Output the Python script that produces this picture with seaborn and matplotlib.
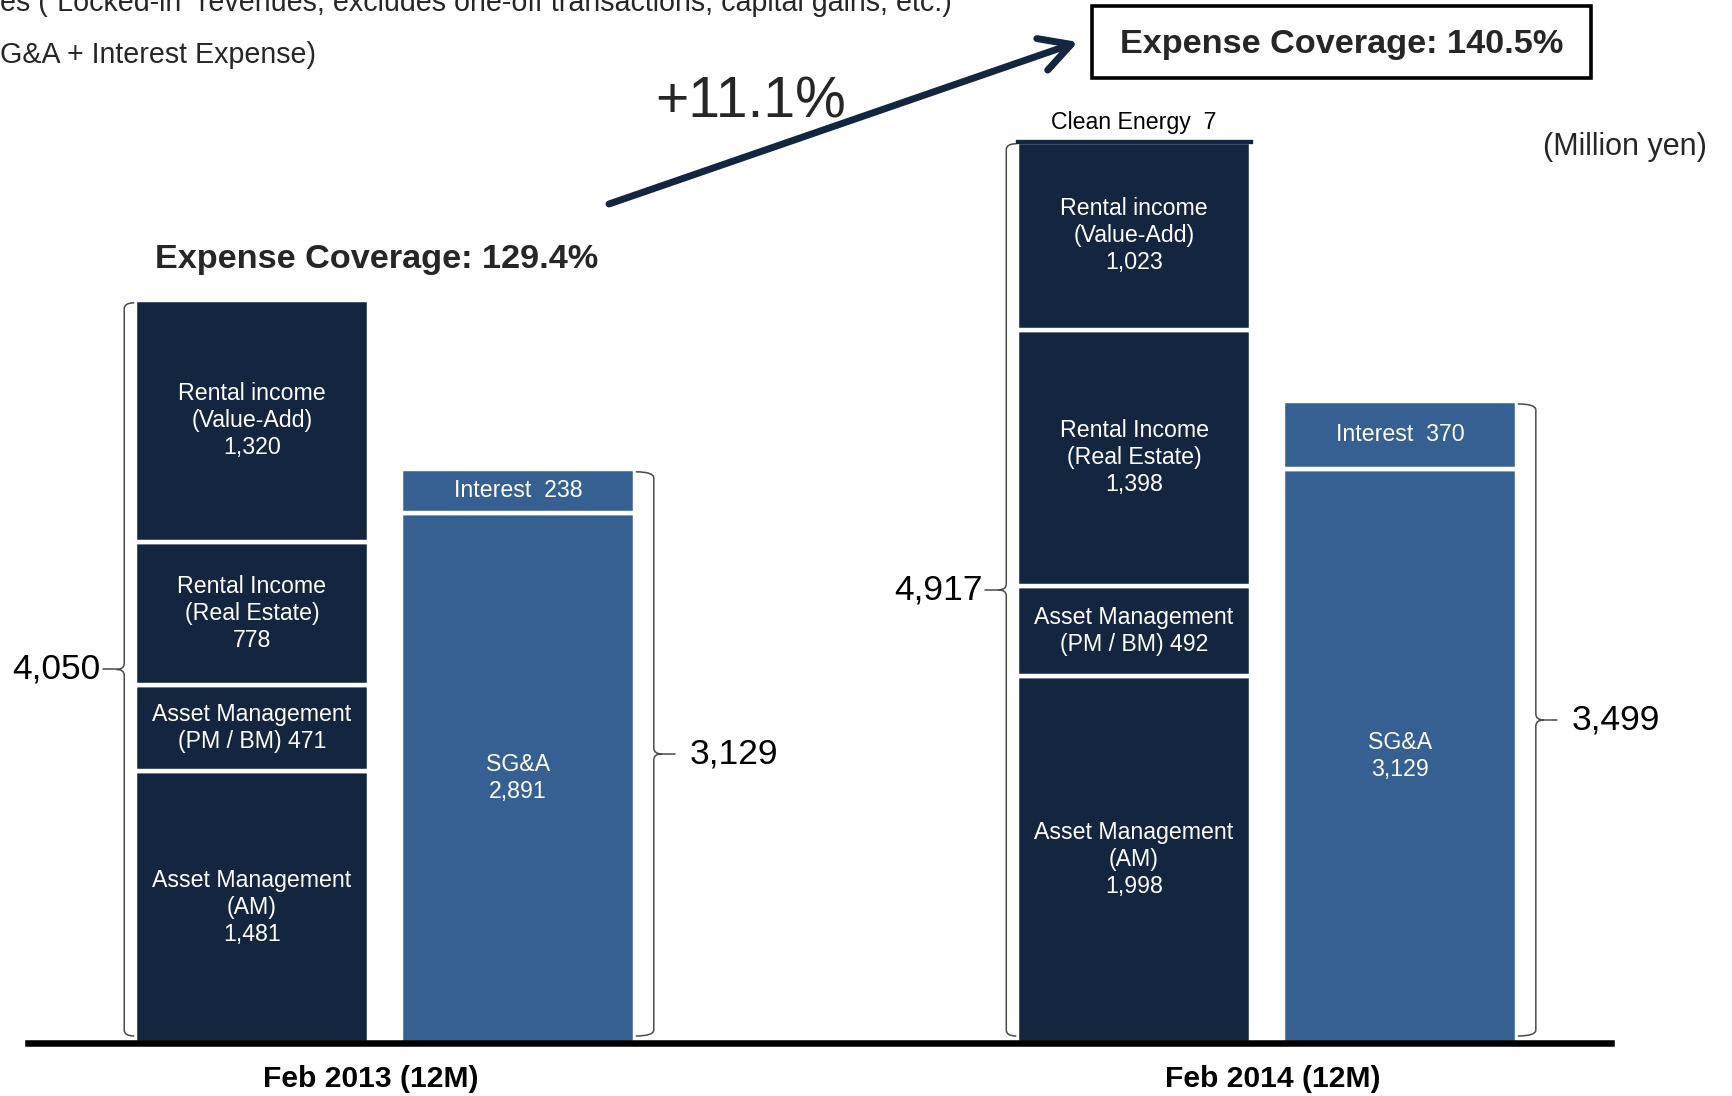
import numpy as np
import pandas as pd
import matplotlib
matplotlib.use("Agg")
import matplotlib.pyplot as plt
import seaborn as sns
from matplotlib.path import Path
from matplotlib.patches import PathPatch, FancyArrowPatch, Rectangle

# ---------------------------------------------------------------- data
periods = ["Feb 2013 (12M)", "Feb 2014 (12M)"]

revenue_items = ["AM", "PM/BM", "Real Estate", "Value-Add", "Clean Energy"]
revenue_names = ["Asset Management\n(AM)\n{v}",
                 "Asset Management\n(PM / BM) {v}",
                 "Rental Income\n(Real Estate)\n{v}",
                 "Rental income\n(Value-Add)\n{v}",
                 "Clean Energy  {v}"]
revenue_2013 = [1481, 471, 778, 1320, 0]
revenue_2014 = [1998, 492, 1398, 1023, 7]
revenue_total = [4050, 4917]

expense_items = ["SG&A", "Interest"]
expense_names = ["SG&A\n{v}", "Interest  {v}"]
expense_2013 = [2891, 238]
expense_2014 = [3129, 370]
expense_total = [3129, 3499]

coverage = [129.4, 140.5]
coverage_change = 11.1

header_lines = ["es (\u201cLocked-in\u201d revenues, excludes one-off transactions, capital gains, etc.)",
                "G&A + Interest Expense)"]
unit_label = "(Million yen)"

# ---------------------------------------------------------------- style
DARK = "#13253F"
LIGHT = "#366092"
BRACE = "#4a4a4a"

sns.set_theme(style="white")
plt.rcParams["font.family"] = ["Liberation Sans", "DejaVu Sans"]

W, H, DPI = 1733, 1096, 100
fig = plt.figure(figsize=(W / DPI, H / DPI), dpi=DPI)
fig.patch.set_facecolor("white")

AX_L, AX_R, AX_B = 28, 1611, 53
ax = fig.add_axes([AX_L / W, AX_B / H, (AX_R - AX_L) / W, (H - AX_B) / H])

UNIT_PX = 266.0     # pixels per bar pitch
Y_PX = 0.1835       # pixels per million yen
X0 = -0.5 - (252 - AX_L) / UNIT_PX
X1 = X0 + (AX_R - AX_L) / UNIT_PX
Y1 = (H - AX_B) / Y_PX


def dx(p):
    return p / UNIT_PX


def dy(p):
    return p / Y_PX


group_centers = [0.0, 3.316]
BAR_W = 0.878
GAP_LW = 3.2

# long table of stacked segments
rows = []
for g, (rev, exp) in enumerate([(revenue_2013, expense_2013), (revenue_2014, expense_2014)]):
    base = 0
    for item, name, v in zip(revenue_items, revenue_names, rev):
        rows.append(dict(period=periods[g], side="revenue", item=item, label=name,
                         value=v, bottom=base, pos=group_centers[g] - 0.5, color=DARK))
        base += v
    base = 0
    for item, name, v in zip(expense_items, expense_names, exp):
        rows.append(dict(period=periods[g], side="expense", item=item, label=name,
                         value=v, bottom=base, pos=group_centers[g] + 0.5, color=LIGHT))
        base += v
segments = pd.DataFrame(rows)
segments = segments[segments["value"] > 0]

for _, r in segments.iterrows():
    thin = r["value"] < 50
    sns.barplot(x=[r["pos"]], y=[r["value"]], native_scale=True, width=BAR_W,
                color=r["color"], saturation=1, bottom=r["bottom"], errorbar=None,
                edgecolor=r["color"] if thin else "white",
                linewidth=2.4 if thin else GAP_LW, ax=ax)
    txt = r["label"].format(v=f"{r['value']:,}")
    if thin:
        ax.text(r["pos"], r["bottom"] + r["value"] + dy(18), txt, ha="center", va="center",
                fontsize=16.7, color="black")
    else:
        ax.text(r["pos"], r["bottom"] + r["value"] / 2, txt, ha="center", va="center",
                fontsize=16.7, color="white", linespacing=1.22)

ax.set_xlim(X0, X1)
ax.set_ylim(0, Y1)
ax.set_xlabel("")
ax.set_ylabel("")
ax.set_yticks([])
ax.set_xticks([group_centers[0] - 0.055, group_centers[1] + 0.02])
ax.set_xticklabels(periods, fontsize=21.6, fontweight="bold", color="black")
ax.tick_params(axis="x", length=0, pad=16)
for s in ["left", "right", "top"]:
    ax.spines[s].set_visible(False)
ax.spines["bottom"].set_linewidth(4.7)
ax.spines["bottom"].set_color("black")
ax.patch.set_alpha(0)


# ---------------------------------------------------------------- braces
def brace(edge, top, bottom, side, label):
    off = 11 if side < 0 else 19
    xl = edge + side * dx(off)
    hook = -side * dx(off - 1)
    r, t, tip = dy(6), dy(6), side * dx(8)
    ym = (top + bottom) / 2
    verts = [(xl + hook, top), (xl, top), (xl, top - r), (xl, ym + t), (xl, ym),
             (xl + tip, ym), (xl, ym), (xl, ym - t), (xl, bottom + r), (xl, bottom),
             (xl + hook, bottom)]
    codes = [Path.MOVETO, Path.CURVE3, Path.CURVE3, Path.LINETO, Path.CURVE3,
             Path.CURVE3, Path.CURVE3, Path.CURVE3, Path.LINETO, Path.CURVE3, Path.CURVE3]
    ax.add_patch(PathPatch(Path(verts, codes), fill=False, edgecolor=BRACE, lw=1.1,
                           clip_on=False))
    ax.plot([xl + tip, xl + tip + side * dx(13)], [ym, ym], color=BRACE, lw=1.1,
            clip_on=False)
    tx = xl + side * dx(24 if side < 0 else 36)
    ax.text(tx, ym, f"{label:,}", ha="right" if side < 0 else "left", va="center",
            fontsize=25.5, color="black")


for g in range(2):
    rev_edge = group_centers[g] - 0.5 - BAR_W / 2
    exp_edge = group_centers[g] + 0.5 + BAR_W / 2
    brace(rev_edge, revenue_total[g] - dy(3), dy(7), -1, revenue_total[g])
    brace(exp_edge, expense_total[g] - dy(3), dy(7), +1, expense_total[g])


# ---------------------------------------------------------------- annotations
def fx(p):
    return p / W


def fy(p):
    return 1 - p / H


fig.text(fx(0), fy(11), header_lines[0], fontsize=20.6, ha="left", va="baseline")
fig.text(fx(0), fy(63), header_lines[1], fontsize=20.6, ha="left", va="baseline")

fig.text(fx(155), fy(259), f"Expense Coverage: {coverage[0]}%", fontsize=24.7,
         fontweight="bold", ha="left", va="center")
fig.text(fx(1342), fy(44), f"Expense Coverage: {coverage[1]}%", fontsize=24.7,
         fontweight="bold", ha="center", va="center")
fig.add_artist(Rectangle((fx(1092), fy(78)), fx(1591 - 1092), 72 / H,
                         transform=fig.transFigure, fill=False, lw=2.6, edgecolor="black"))

fig.text(fx(655), fy(117), f"+{coverage_change}%", fontsize=41, ha="left", va="baseline")
fig.add_artist(FancyArrowPatch((fx(609), fy(204)), (fx(1078), fy(42)),
                               transform=fig.transFigure,
                               arrowstyle="->,head_length=22,head_width=12",
                               mutation_scale=1, lw=5, color=DARK,
                               capstyle="round", joinstyle="round",
                               shrinkA=0, shrinkB=0))

fig.text(fx(1543), fy(147), unit_label, fontsize=22, ha="left", va="center")

fig.savefig("out.png", dpi=DPI, facecolor="white")
